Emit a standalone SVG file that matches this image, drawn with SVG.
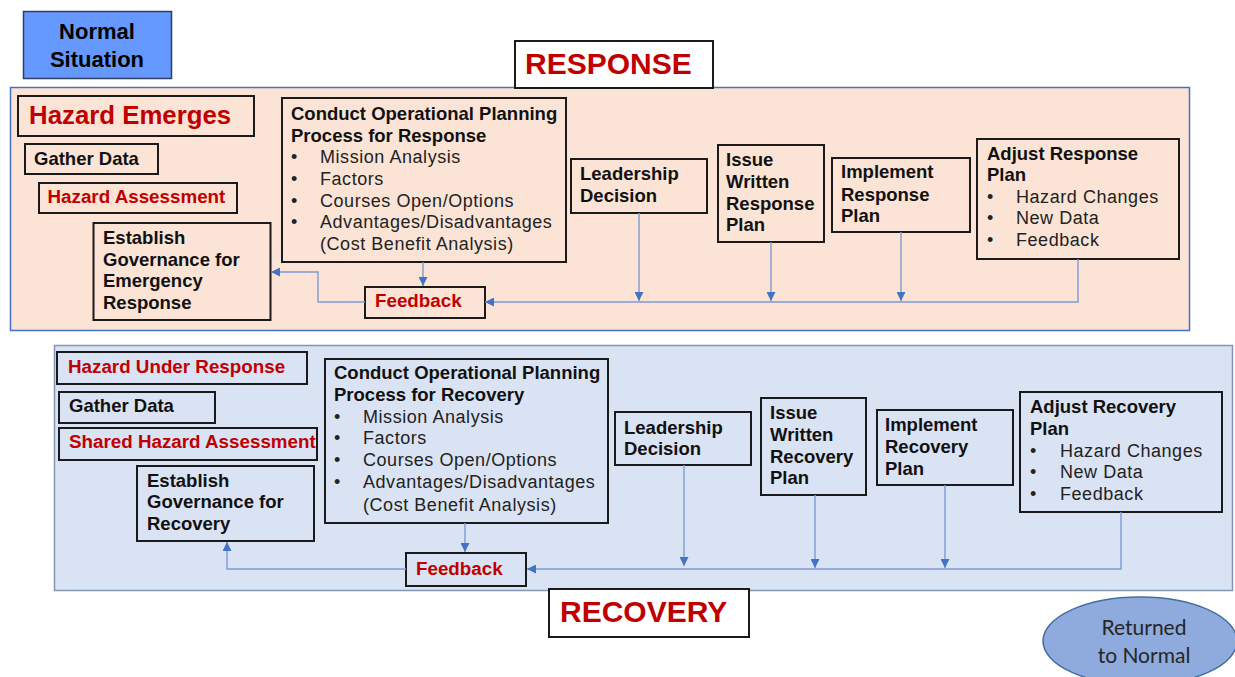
<svg xmlns="http://www.w3.org/2000/svg" width="1235" height="677" viewBox="0 0 1235 677">
<style>
text{font-family:"Liberation Sans",Arial,sans-serif}
.b{font-weight:bold;font-size:18.5px;fill:#111}
.rd{font-weight:bold;font-size:18.8px;fill:#C00000}
.n{font-size:18px;fill:#222;letter-spacing:0.55px}
.box{fill:none;stroke:#1a1a1a;stroke-width:2}
.wbox{fill:#fff;stroke:#1a1a1a;stroke-width:2}
.title{font-weight:bold;font-size:30px;fill:#C00000}
.c{fill:none;stroke:#7C9BD6;stroke-width:1.4}
</style>
<defs>
<marker id="ar" markerUnits="userSpaceOnUse" markerWidth="9" markerHeight="9" viewBox="0 0 10 10" refX="10" refY="5" orient="auto">
<path d="M0,0 L10,5 L0,10 z" fill="#4472C4"/>
</marker>
</defs>

<!-- panels -->
<rect x="10.5" y="87.5" width="1179" height="243" fill="#FBE4D5" stroke="#4472C4" stroke-width="1.5"/>
<rect x="54.5" y="345.5" width="1178" height="245" fill="#DAE3F3" stroke="#8497B0" stroke-width="1.5"/>

<g id="normal-situation">
<rect x="23.5" y="11.5" width="148" height="67" fill="#6699FF" stroke="#2F3D5E" stroke-width="1.5"/>
<text x="97" y="39" text-anchor="middle" style="font-weight:bold;font-size:22px;fill:#000">Normal</text>
<text x="97" y="67" text-anchor="middle" style="font-weight:bold;font-size:22px;fill:#000">Situation</text>
</g>

<g id="response-title">
<rect class="wbox" x="515" y="41" width="198" height="47"/>
<text class="title" x="525" y="74">RESPONSE</text>
</g>

<g id="hazard-emerges">
<rect class="box" x="18" y="96" width="236" height="40"/>
<text x="29" y="124" style="font-weight:bold;font-size:25.8px;fill:#C00000">Hazard Emerges</text>
</g>
<g id="gather-data-1">
<rect class="box" x="25" y="144" width="133" height="30"/>
<text class="b" x="34" y="165">Gather Data</text>
</g>
<g id="hazard-assessment">
<rect class="box" x="39" y="183" width="198" height="30"/>
<text class="rd" x="47.5" y="203">Hazard Assessment</text>
</g>
<g id="establish-governance-response">
<rect class="box" x="93.5" y="223" width="177" height="97"/>
<text class="b" x="103" y="244">Establish</text>
<text class="b" x="103" y="266">Governance for</text>
<text class="b" x="103" y="287">Emergency</text>
<text class="b" x="103" y="309">Response</text>
</g>
<g id="opp-response">
<rect class="box" x="282" y="98" width="284" height="164"/>
<text class="b" x="291" y="120">Conduct Operational Planning</text>
<text class="b" x="291" y="142">Process for Response</text>
<text class="n" x="291" y="163">•</text><text class="n" x="320" y="163">Mission Analysis</text>
<text class="n" x="291" y="185">•</text><text class="n" x="320" y="185">Factors</text>
<text class="n" x="291" y="207">•</text><text class="n" x="320" y="207">Courses Open/Options</text>
<text class="n" x="291" y="228">•</text><text class="n" x="320" y="228">Advantages/Disadvantages</text>
<text class="n" x="320" y="250">(Cost Benefit Analysis)</text>
</g>
<g id="feedback-response">
<rect class="box" x="365" y="287" width="120" height="31"/>
<text class="rd" x="375" y="307">Feedback</text>
</g>
<g id="leadership-response">
<rect class="box" x="571" y="159" width="136" height="54"/>
<text class="b" x="580" y="180">Leadership</text>
<text class="b" x="580" y="202">Decision</text>
</g>
<g id="issue-response">
<rect class="box" x="718" y="145" width="106" height="97"/>
<text class="b" x="726" y="166">Issue</text>
<text class="b" x="726" y="188">Written</text>
<text class="b" x="726" y="210">Response</text>
<text class="b" x="726" y="231">Plan</text>
</g>
<g id="implement-response">
<rect class="box" x="832" y="158" width="138" height="74"/>
<text class="b" x="841" y="178">Implement</text>
<text class="b" x="841" y="201">Response</text>
<text class="b" x="841" y="222">Plan</text>
</g>
<g id="adjust-response">
<rect class="box" x="977" y="139" width="202" height="120"/>
<text class="b" x="987" y="160">Adjust Response</text>
<text class="b" x="987" y="181">Plan</text>
<text class="n" x="987" y="203">•</text><text class="n" x="1016" y="203">Hazard Changes</text>
<text class="n" x="987" y="224">•</text><text class="n" x="1016" y="224">New Data</text>
<text class="n" x="987" y="246">•</text><text class="n" x="1016" y="246">Feedback</text>
</g>

<g id="hazard-under-response">
<rect class="box" x="57" y="352" width="250" height="32"/>
<text class="rd" x="68" y="373">Hazard Under Response</text>
</g>
<g id="gather-data-2">
<rect class="box" x="59" y="392" width="156" height="31"/>
<text class="b" x="69" y="412">Gather Data</text>
</g>
<g id="shared-hazard-assessment">
<rect class="box" x="59" y="428" width="258" height="32"/>
<text class="rd" x="69" y="448">Shared Hazard Assessment</text>
</g>
<g id="establish-governance-recovery">
<rect class="box" x="137" y="466" width="177" height="75"/>
<text class="b" x="147" y="487">Establish</text>
<text class="b" x="147" y="508">Governance for</text>
<text class="b" x="147" y="530">Recovery</text>
</g>
<g id="opp-recovery">
<rect class="box" x="325" y="359" width="283" height="164"/>
<text class="b" x="334" y="379">Conduct Operational Planning</text>
<text class="b" x="334" y="401">Process for Recovery</text>
<text class="n" x="334" y="423">•</text><text class="n" x="363" y="423">Mission Analysis</text>
<text class="n" x="334" y="444">•</text><text class="n" x="363" y="444">Factors</text>
<text class="n" x="334" y="466">•</text><text class="n" x="363" y="466">Courses Open/Options</text>
<text class="n" x="334" y="488">•</text><text class="n" x="363" y="488">Advantages/Disadvantages</text>
<text class="n" x="363" y="511">(Cost Benefit Analysis)</text>
</g>
<g id="feedback-recovery">
<rect class="box" x="406" y="553" width="120" height="33"/>
<text class="rd" x="416" y="575">Feedback</text>
</g>
<g id="leadership-recovery">
<rect class="box" x="615" y="412" width="136" height="53"/>
<text class="b" x="624" y="434">Leadership</text>
<text class="b" x="624" y="455">Decision</text>
</g>
<g id="issue-recovery">
<rect class="box" x="761" y="398" width="105" height="97"/>
<text class="b" x="770" y="419">Issue</text>
<text class="b" x="770" y="441">Written</text>
<text class="b" x="770" y="463">Recovery</text>
<text class="b" x="770" y="484">Plan</text>
</g>
<g id="implement-recovery">
<rect class="box" x="877" y="410" width="136" height="75"/>
<text class="b" x="885" y="431">Implement</text>
<text class="b" x="885" y="453">Recovery</text>
<text class="b" x="885" y="475">Plan</text>
</g>
<g id="adjust-recovery">
<rect class="box" x="1020" y="392" width="202" height="120"/>
<text class="b" x="1030" y="413">Adjust Recovery</text>
<text class="b" x="1030" y="435">Plan</text>
<text class="n" x="1030" y="457">•</text><text class="n" x="1060" y="457">Hazard Changes</text>
<text class="n" x="1030" y="478">•</text><text class="n" x="1060" y="478">New Data</text>
<text class="n" x="1030" y="500">•</text><text class="n" x="1060" y="500">Feedback</text>
</g>

<g id="recovery-title">
<rect class="wbox" x="549" y="589" width="200" height="48"/>
<text class="title" x="560" y="622">RECOVERY</text>
</g>

<g id="returned-to-normal">
<ellipse cx="1140" cy="641" rx="97" ry="44" fill="#8FAADC" stroke="#41719C" stroke-width="1.5"/>
<text x="1144" y="635" text-anchor="middle" style="font-family:Lato,'Liberation Sans',sans-serif;font-size:21px;fill:#262626">Returned</text>
<text x="1144" y="663" text-anchor="middle" style="font-family:Lato,'Liberation Sans',sans-serif;font-size:21px;fill:#262626">to Normal</text>
</g>

<g id="connectors">
<path class="c" d="M423,262 V286" marker-end="url(#ar)"/>
<path class="c" d="M365,302 H318 V272 H271" marker-end="url(#ar)"/>
<path class="c" d="M1078,259 V302 H485" marker-end="url(#ar)"/>
<path class="c" d="M639,213 V301" marker-end="url(#ar)"/>
<path class="c" d="M771,242 V301" marker-end="url(#ar)"/>
<path class="c" d="M901,232 V301" marker-end="url(#ar)"/>
<path class="c" d="M465,523 V552" marker-end="url(#ar)"/>
<path class="c" d="M406,569 H227 V542" marker-end="url(#ar)"/>
<path class="c" d="M1121,512 V569 H527" marker-end="url(#ar)"/>
<path class="c" d="M684,465 V566" marker-end="url(#ar)"/>
<path class="c" d="M815,495 V568" marker-end="url(#ar)"/>
<path class="c" d="M945,485 V568" marker-end="url(#ar)"/>
</g>
</svg>
